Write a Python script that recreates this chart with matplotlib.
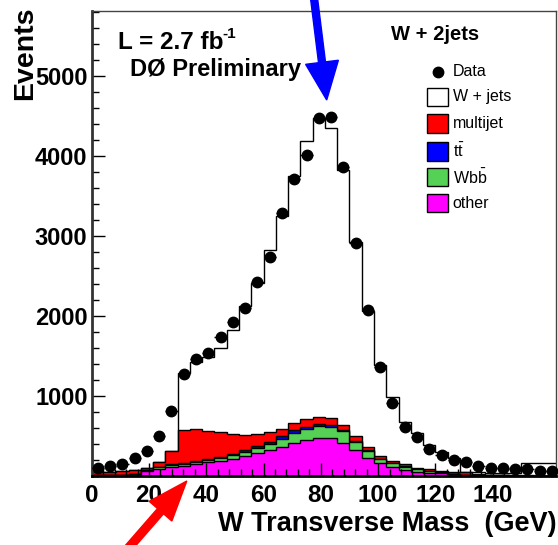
import numpy as np
import matplotlib
matplotlib.use('Agg')
import matplotlib.pyplot as plt
from matplotlib.patches import Rectangle, FancyArrow
from matplotlib.transforms import IdentityTransform
from matplotlib.ticker import MultipleLocator
from matplotlib.lines import Line2D

plt.rcParams['font.family'] = ['Liberation Sans', 'DejaVu Sans']
plt.rcParams['mathtext.fontset'] = 'custom'
plt.rcParams['mathtext.rm'] = 'Liberation Sans'
plt.rcParams['mathtext.bf'] = 'Liberation Sans:bold'

# 38 bins of 150/35 GeV
edges = np.arange(39) * 150 / 35

data = [96, 129, 150, 221, 313, 500, 813, 1275, 1459, 1541, 1737, 1929, 2096, 2429,
        2741, 3288, 3709, 4009, 4479, 4484, 3866, 2912, 2075, 1362, 916, 616, 484, 341,
        262, 200, 179, 129, 104, 104, 84, 84, 66, 66]
other = [10, 12, 15, 25, 60, 90, 115, 130, 150, 170, 190, 215, 250, 285, 320, 365, 415,
         455, 480, 475, 415, 320, 220, 158, 108, 75, 54, 42, 33, 22, 12, 8, 6, 5, 4, 3, 3, 2]
wbb = [0, 0, 0, 0, 15, 20, 25, 25, 25, 30, 35, 47, 50, 60, 80, 95, 120, 135, 140, 140,
       145, 101, 97, 50, 50, 42, 29, 25, 17, 8, 6, 4, 3, 2, 2, 2, 1, 1]
ttbar = [0, 0, 0, 0, 0, 2, 5, 10, 10, 10, 10, 15, 20, 25, 30, 35, 35, 25, 25, 25, 20, 15,
         8, 5, 3, 2, 1, 1, 1, 0, 0, 0, 0, 0, 0, 0, 0, 0]
multijet = [35, 38, 45, 55, 30, 67, 172, 410, 407, 353, 311, 244, 197, 151, 116, 97, 88,
            98, 88, 85, 60, 64, 42, 37, 27, 27, 20, 15, 16, 16, 28, 8, 6, 5, 4, 3, 2, 2]
wjets = [0, 0, 0, 0, 0, 0, 0, 716, 837, 928, 1058, 1304, 1608, 1896, 2279, 2658, 3096,
         3475, 3738, 3629, 3185, 2420, 1693, 1140, 802, 533, 429, 305, 237, 184, 4, 25,
         27, 28, 30, 157, 159, 160]

W, H = 558, 545
fig = plt.figure(figsize=(W / 100, H / 100), dpi=100)

def fx(x):
    return x / W

def fy(y):
    return 1 - y / H

ax = fig.add_axes([fx(91.7), fy(476), fx(556) - fx(91.7), fy(10.7) - fy(476)])

# stacked histograms, drawn top layer first
layers = [(other, '#ff00ff'), (wbb, '#55d255'), (ttbar, '#0000ff'), (multijet, '#ff0000'), (wjets, 'white')]
cum = []
s = np.zeros(len(data))
for vals, col in layers:
    s = s + np.array(vals)
    cum.append((s.copy(), col))
for vals, col in cum[::-1]:
    ax.stairs(vals, edges, fill=True, facecolor=col, edgecolor='black', linewidth=1.0)

centers = (edges[:-1] + edges[1:]) / 2
ax.errorbar(centers, data, xerr=(edges[1] - edges[0]) / 2, fmt='o', color='black',
            markersize=7.5, elinewidth=1, capsize=0, clip_on=False, zorder=5)

ax.set_xlim(0, 162.1)
ax.set_ylim(0, 5816)
ax.set_xticks(np.arange(0, 141, 20))
ax.set_yticks(np.arange(1000, 5001, 1000))
ax.xaxis.set_minor_locator(MultipleLocator(4))
ax.yaxis.set_minor_locator(MultipleLocator(200))
ax.tick_params(which='both', direction='in', width=1)
ax.tick_params(which='major', length=9.5)
ax.tick_params(which='minor', length=5)
ax.tick_params(axis='y', labelsize=17, pad=3)
ax.tick_params(axis='x', labelsize=17.5, pad=6)
for lab in ax.get_xticklabels() + ax.get_yticklabels():
    lab.set_fontweight('bold')

ax.spines['left'].set_linewidth(2)
ax.spines['left'].set_color('#333333')
ax.spines['bottom'].set_linewidth(2)
ax.spines['top'].set_linewidth(1)
ax.spines['right'].set_linewidth(1)
ax.spines['top'].set_color('#444444')
ax.spines['right'].set_color('#444444')

fig.text(fx(25), fy(6), 'Events', rotation=90, ha='center', va='top',
         fontsize=20.5, fontweight='bold')
fig.text(fx(557), fy(524), 'W Transverse Mass  (GeV)', ha='right', va='center',
         fontsize=19.5, fontweight='bold')

fig.text(fx(118), fy(49.3), 'L = 2.7 fb', ha='left', va='baseline', fontsize=17.5, fontweight='bold')
fig.text(fx(222.5), fy(38), '-1', ha='left', va='baseline', fontsize=11, fontweight='bold')
fig.text(fx(130), fy(76), 'DØ Preliminary', ha='left', va='baseline', fontsize=17, fontweight='bold')

# legend
fig.text(fx(434.7), fy(34), 'W + 2jets', ha='center', va='center', fontsize=14.5, fontweight='bold')
fig.add_artist(Line2D([fx(437.7)], [fy(71.7)], marker='o', color='black', markersize=7.5,
                      transform=fig.transFigure))
fig.text(fx(452.7), fy(71.7), 'Data', ha='left', va='center', fontsize=11.5)
leg = [('W + jets', 'white', 97),
       ('multijet', '#ff0000', 123.3),
       (r'$\mathrm{t\bar{t}}$', '#0000ff', 151.3),
       (r'$\mathrm{Wb\bar{b}}$', '#55d255', 177),
       ('other', '#ff00ff', 203)]
for name, col, yc in leg:
    fig.add_artist(Rectangle((fx(426.7), fy(yc + 9.3)), fx(448.3) - fx(426.7), fy(yc - 9.3) - fy(yc + 9.3),
                             facecolor=col, edgecolor='black', linewidth=1, transform=fig.transFigure))
    fig.text(fx(452.7), fy(yc), name, ha='left', va='center', fontsize=11.5)

# arrows (pixel coordinates, origin bottom-left)
fig.add_artist(FancyArrow(313, H + 10, 326.7 - 313, (H - 100) - (H + 10), width=7,
                          head_width=33, head_length=38, length_includes_head=True,
                          color='#0000ff', transform=IdentityTransform()))
fig.add_artist(FancyArrow(118, -15, 186.8 - 118, (H - 481) + 15, width=8,
                          head_width=30, head_length=40, length_includes_head=True,
                          color='#ff0000', transform=IdentityTransform()))

fig.savefig('out.png', dpi=100)
